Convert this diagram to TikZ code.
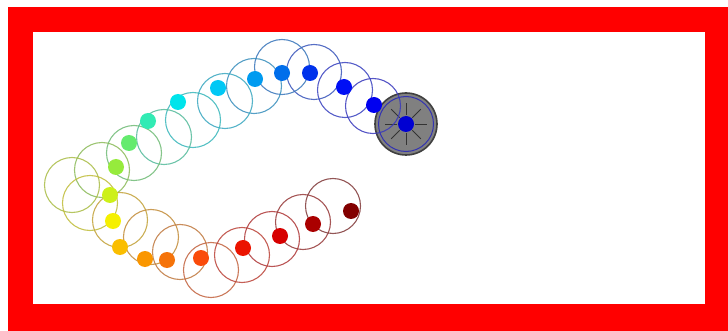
\documentclass[tikz,border=0pt]{standalone}
\definecolor{framered}{RGB}{255,0,0}
\definecolor{c1}{RGB}{0,0,210}
\definecolor{c2}{RGB}{0,0,240}
\definecolor{c3}{RGB}{0,15,245}
\definecolor{c4}{RGB}{0,50,235}
\definecolor{c5}{RGB}{0,110,235}
\definecolor{c6}{RGB}{0,155,240}
\definecolor{c7}{RGB}{0,200,245}
\definecolor{c8}{RGB}{0,228,235}
\definecolor{c9}{RGB}{50,235,180}
\definecolor{c10}{RGB}{100,235,110}
\definecolor{c11}{RGB}{150,235,60}
\definecolor{c12}{RGB}{205,240,25}
\definecolor{c13}{RGB}{245,240,0}
\definecolor{c14}{RGB}{250,190,0}
\definecolor{c15}{RGB}{250,150,0}
\definecolor{c16}{RGB}{245,115,10}
\definecolor{c17}{RGB}{250,75,10}
\definecolor{c18}{RGB}{235,20,0}
\definecolor{c19}{RGB}{215,0,0}
\definecolor{c20}{RGB}{170,0,0}
\definecolor{c21}{RGB}{130,0,0}
\definecolor{diskgray}{RGB}{128,128,128}
\begin{document}
\begin{tikzpicture}[x=1pt,y=-1pt,
  ring/.style={line width=1.1pt, opacity=0.85},
  spoke/.style={black!80, line width=0.9pt}]
\useasboundingbox (0,0) rectangle (728,331);
% frame
\fill[framered] (8,7) rectangle (728,331);
\fill[white] (33,32) rectangle (705,304);
% head disk
\fill[diskgray] (406,124) circle[radius=31];
\draw[black!75, line width=1.6pt] (406,124) circle[radius=31];
\draw[c1!60!gray, line width=1pt] (406,124) circle[radius=27.5];
\foreach \a in {0,45,...,315}
  \draw[spoke, shift={(406,124)}] (\a:9) -- (\a:21);
% trail circles
\foreach \cx/\cy/\c in {373/106/2, 345/90/3, 314/72/4, 282/67/5, 254/86/6,
  225/101/7, 193/120/8, 164/137/9, 134/153/10, 102/170/11, 72/185/12,
  90/203/13, 120/220/14, 151/237/15, 180/252/16, 211/270/17, 242/255/18,
  272/239/19, 303/222/20, 333/206/21}
  \draw[ring, draw=c\c!55!gray] (\cx,\cy) circle[radius=27.5];
% dots
\foreach \dx/\dy/\c in {406/124/1, 374/105/2, 344/87/3, 310/73/4, 282/73/5,
  255/79/6, 218/88/7, 178/102/8, 148/121/9, 129/143/10, 116/167/11,
  110/195/12, 113/221/13, 120/247/14, 145/259/15, 167/260/16, 201/258/17,
  243/248/18, 280/236/19, 313/224/20, 351/211/21}
  \fill[c\c] (\dx,\dy) circle[radius=8];
\end{tikzpicture}
\end{document}
